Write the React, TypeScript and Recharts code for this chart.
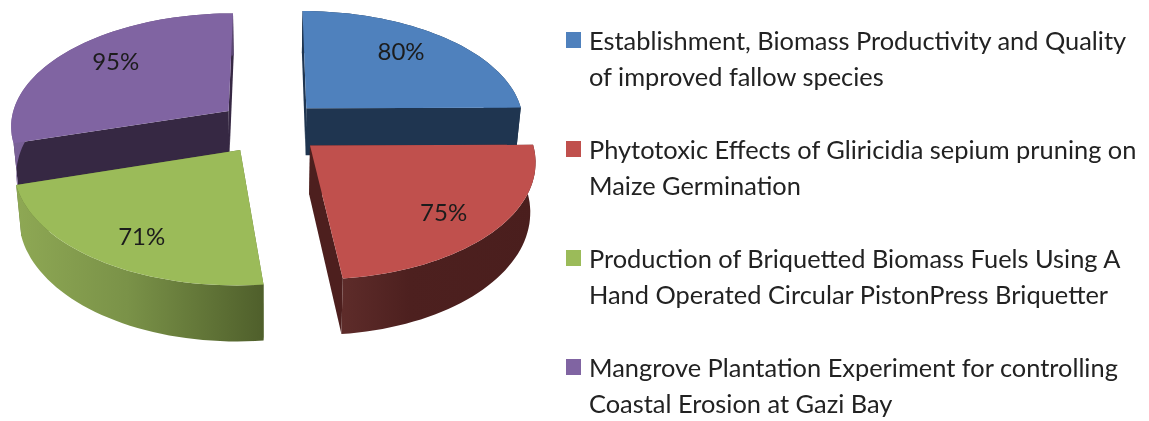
import { PieChart, Pie, Legend } from "recharts"

// legend order
const categories = [
  "Establishment, Biomass Productivity and Quality of improved fallow species",
  "Phytotoxic Effects of Gliricidia sepium pruning on Maize Germination",
  "Production of Briquetted Biomass Fuels Using A Hand Operated Circular PistonPress Briquetter",
  "Mangrove Plantation Experiment for controlling Coastal Erosion at Gazi Bay",
]
const values = [80, 75, 71, 95]
const legendLines = [
  ["Establishment, Biomass Productivity and Quality", "of improved fallow species"],
  ["Phytotoxic Effects of Gliricidia sepium pruning on", "Maize Germination"],
  ["Production of Briquetted Biomass Fuels Using A", "Hand Operated Circular PistonPress Briquetter"],
  ["Mangrove Plantation Experiment for controlling", "Coastal Erosion at Gazi Bay"],
]
const topColors = ["#4f81bd", "#c0504d", "#9bbb59", "#8064a2"]
const cutColors = ["#1f3550", "#4d1f1e", "#5f7336", "#362843"]
const wallGradients = ["wallBlue", "wallRed", "wallGreen", "wallPurple"]
const labelNudge = [[-10, -3], [-2, 4], [5, 5], [8, -4]]

// slices are painted back to front: purple and blue first, so red and green overlap them
const drawOrder = [3, 0, 1, 2]
const total = values.reduce((a, b) => a + b, 0)
const firstAngle = 90 + (values[3] / total) * 360
const tableData = drawOrder.map((i) => ({
  name: categories[i],
  value: values[i],
  colorIndex: i,
}))

const EXPLODE = 0.24
const SQUASH = 0.516
const PERSPECTIVE = 0.12
const DEPTH = 48

function project(cx: number, cy: number, R: number, X: number, Y: number, bottom: boolean) {
  const s = 1 / (1 + PERSPECTIVE * Y)
  return {
    x: cx + R * X * s * (bottom ? 0.98 : 1),
    y: cy - R * SQUASH * Y * s + (bottom ? DEPTH * s : 0),
  }
}

function toPath(pts: { x: number; y: number }[]) {
  return "M" + pts.map((p) => `${p.x.toFixed(1)},${p.y.toFixed(1)}`).join("L") + "Z"
}

function Slice3D(props: any) {
  const { cx, cy, outerRadius: R, startAngle, endAngle, midAngle, payload } = props
  const idx = payload.colorIndex ?? props.colorIndex
  const rad = Math.PI / 180
  const ex = EXPLODE * Math.cos(midAngle * rad)
  const ey = EXPLODE * Math.sin(midAngle * rad)

  const arc = (bottom: boolean) => {
    const pts = []
    const steps = Math.ceil(Math.abs(startAngle - endAngle) / 2)
    for (let i = 0; i <= steps; i++) {
      const a = (startAngle + ((endAngle - startAngle) * i) / steps) * rad
      pts.push(project(cx, cy, R, ex + Math.cos(a), ey + Math.sin(a), bottom))
    }
    return pts
  }
  const topArc = arc(false)
  const botArc = arc(true)
  const apexTop = project(cx, cy, R, ex, ey, false)
  const apexBot = project(cx, cy, R, ex, ey, true)
  const last = topArc.length - 1

  return (
    <g>
      <path d={toPath([apexTop, topArc[0], botArc[0], apexBot])} fill={cutColors[idx]} />
      <path d={toPath([apexTop, topArc[last], botArc[last], apexBot])} fill={cutColors[idx]} />
      <path d={toPath([...topArc, ...[...botArc].reverse()])} fill={`url(#${wallGradients[idx]})`} />
      <path d={toPath([apexTop, ...topArc])} fill={topColors[idx]} />
    </g>
  )
}

function SliceLabel(props: any) {
  const { cx, cy, outerRadius: R, midAngle, value, payload } = props
  const idx = payload?.colorIndex ?? props.colorIndex
  const rad = Math.PI / 180
  const p = project(
    cx,
    cy,
    R,
    (EXPLODE + 0.75) * Math.cos(midAngle * rad),
    (EXPLODE + 0.75) * Math.sin(midAngle * rad),
    false
  )
  return (
    <text
      x={p.x + labelNudge[idx][0]}
      y={p.y + labelNudge[idx][1]}
      textAnchor="middle"
      dominantBaseline="central"
      fontFamily="Lato"
      fontSize={24}
      fill="#1c1c1c"
    >
      {value}%
    </text>
  )
}

function LegendBox() {
  return (
    <div style={{ fontFamily: "Lato", fontSize: 25.4, lineHeight: "36px", color: "#222" }}>
      {legendLines.map((lines, i) => (
        <div key={i} style={{ position: "relative", height: 72, marginBottom: 37, paddingLeft: 23, whiteSpace: "nowrap", textAlign: "left" }}>
          <span style={{ position: "absolute", left: 0, top: 10, width: 15, height: 16, background: topColors[i] }} />
          {lines.map((line) => (
            <div key={line}>{line}</div>
          ))}
        </div>
      ))}
    </div>
  )
}

export default function App() {
  return (
    <div style={{ position: "fixed", left: 0, top: 0, width: 1149, height: 421, background: "#fff", filter: "blur(0.4px)" }}>
      <PieChart width={1149} height={421} margin={{ top: 0, right: 0, bottom: 0, left: 0 }}>
        <defs>
          <linearGradient id="wallBlue" x1="0" y1="0" x2="1" y2="0">
            <stop offset="0" stopColor="#1f3550" />
            <stop offset="1" stopColor="#1f3550" />
          </linearGradient>
          <linearGradient id="wallPurple" x1="0" y1="0" x2="1" y2="0">
            <stop offset="0" stopColor="#7a6198" />
            <stop offset="1" stopColor="#5a4672" />
          </linearGradient>
          <linearGradient id="wallRed" x1="0" y1="0" x2="1" y2="0">
            <stop offset="0" stopColor="#5e2c2a" />
            <stop offset="0.35" stopColor="#4d201f" />
            <stop offset="1" stopColor="#4a1e1d" />
          </linearGradient>
          <linearGradient id="wallGreen" x1="0" y1="0" x2="1" y2="0">
            <stop offset="0" stopColor="#8ea854" />
            <stop offset="0.45" stopColor="#7a9248" />
            <stop offset="1" stopColor="#4f5f2b" />
          </linearGradient>
        </defs>
        <Pie
          data={tableData}
          dataKey="value"
          nameKey="name"
          cx={270}
          cy={127}
          innerRadius={0}
          outerRadius={219}
          startAngle={firstAngle}
          endAngle={firstAngle - 360}
          stroke="none"
          isAnimationActive={false}
          shape={Slice3D}
          label={SliceLabel}
          labelLine={false}
        />
        <Legend
          content={<LegendBox />}
          layout="vertical"
          wrapperStyle={{ position: "absolute", left: 566, top: 22, width: 580, height: 400 }}
        />
      </PieChart>
    </div>
  )
}
